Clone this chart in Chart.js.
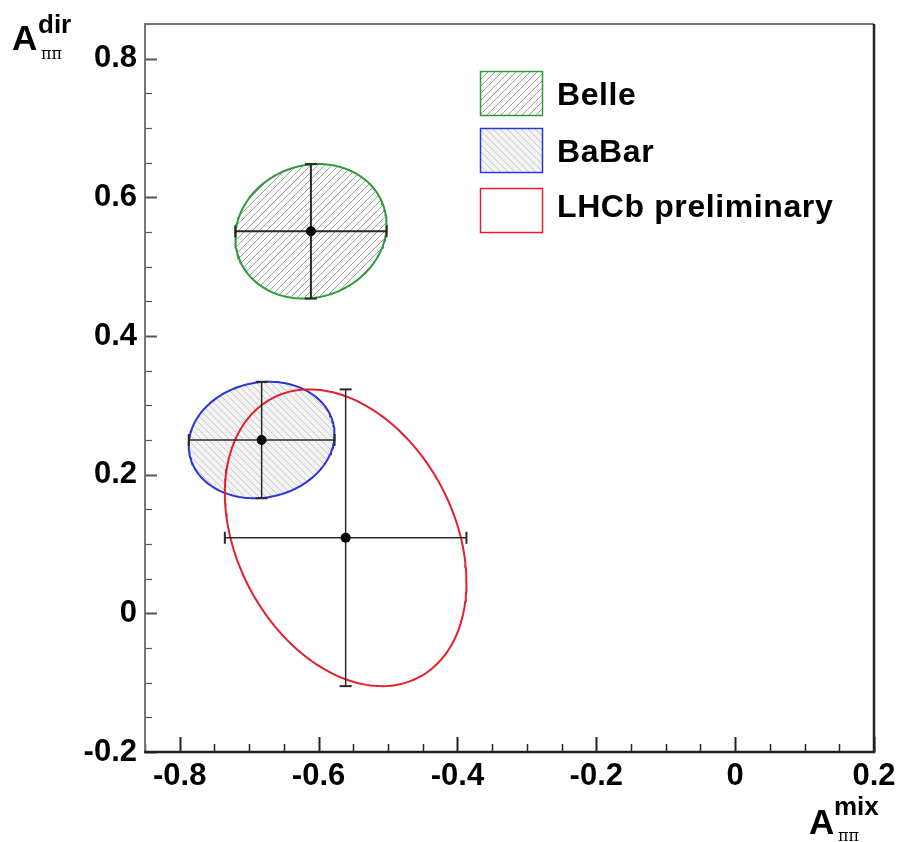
<!DOCTYPE html>
<html><head><meta charset="utf-8">
<script src="https://cdn.jsdelivr.net/npm/chart.js@4.4.1/dist/chart.umd.min.js"></script>
<style>html,body{margin:0;padding:0;background:#fff;}canvas{display:block;}</style>
</head><body>
<canvas id="c" width="897" height="842"></canvas>
<script>
// ---- data ----
const experiments = ['Belle', 'BaBar', 'LHCb preliminary'];
const mixCentral = [-0.611, -0.682, -0.561];
const dirCentral = [0.551, 0.250, 0.109];
const mixError = [0.109, 0.105, 0.174];
const dirError = [0.097, 0.084, 0.214];
const correlation = [0.10, 0.10, -0.30];
const xTickValues = [-0.8, -0.6, -0.4, -0.2, 0, 0.2];
const xTickLabels = ['-0.8', '-0.6', '-0.4', '-0.2', '0', '0.2'];
const yTickValues = [-0.2, 0, 0.2, 0.4, 0.6, 0.8];
const yTickLabels = ['-0.2', '0', '0.2', '0.4', '0.6', '0.8'];

// ---- styles ----
const lineColors = ['#2f9a3a', '#2b35d6', '#e3202b'];
const barColor = '#2a2a2a';
const FONT = '"Liberation Sans", Arial, Helvetica, sans-serif';

const canvas = document.getElementById('c');
const ctx0 = canvas.getContext('2d');
function hatch(dir, color, bg) {
  const s = 7;
  const t = document.createElement('canvas');
  t.width = s; t.height = s;
  const g = t.getContext('2d');
  g.fillStyle = bg; g.fillRect(0, 0, s, s);
  g.strokeStyle = color; g.lineWidth = 1;
  g.beginPath();
  if (dir > 0) {
    g.moveTo(0, s); g.lineTo(s, 0);
    g.moveTo(-1, 1); g.lineTo(1, -1);
    g.moveTo(s - 1, s + 1); g.lineTo(s + 1, s - 1);
  } else {
    g.moveTo(0, 0); g.lineTo(s, s);
    g.moveTo(s - 1, -1); g.lineTo(s + 1, 1);
    g.moveTo(-1, s - 1); g.lineTo(1, s + 1);
  }
  g.stroke();
  return ctx0.createPattern(t, 'repeat');
}
const fills = [hatch(1, '#a0a0a0', '#fbfbfb'), hatch(-1, '#c8c8c8', '#f3f3f3'), null];

// 1-sigma contour of a correlated 2D gaussian (bounding box = error bars)
function contour(i) {
  const pts = [];
  const d = Math.acos(correlation[i]);
  const n = 180;
  for (let k = 0; k <= n; k++) {
    const t = 2 * Math.PI * k / n;
    pts.push({ x: mixCentral[i] + mixError[i] * Math.cos(t),
               y: dirCentral[i] + dirError[i] * Math.cos(t - d) });
  }
  return pts;
}

const datasets = [];
// centre points (top-most)
datasets.push({
  label: 'centres',
  data: experiments.map((_, i) => ({ x: mixCentral[i], y: dirCentral[i] })),
  showLine: false, pointRadius: 5, pointBackgroundColor: '#000', pointBorderColor: '#000', pointBorderWidth: 0
});
// error bars
experiments.forEach((_, i) => {
  const w = i === 0 ? 2 : 1.5;
  datasets.push({
    label: experiments[i] + ' mix err',
    data: [{ x: mixCentral[i] - mixError[i], y: dirCentral[i] }, { x: mixCentral[i] + mixError[i], y: dirCentral[i] }],
    borderColor: barColor, borderWidth: w, pointStyle: 'line', pointRadius: 6, pointRotation: 90,
    pointBorderColor: barColor, pointBackgroundColor: barColor, pointBorderWidth: 2, fill: false
  });
  datasets.push({
    label: experiments[i] + ' dir err',
    data: [{ x: mixCentral[i], y: dirCentral[i] - dirError[i] }, { x: mixCentral[i], y: dirCentral[i] + dirError[i] }],
    borderColor: barColor, borderWidth: w, pointStyle: 'line', pointRadius: 6, pointRotation: 0,
    pointBorderColor: barColor, pointBackgroundColor: barColor, pointBorderWidth: 2, fill: false
  });
});
// ellipses: LHCb over BaBar over Belle
[2, 1, 0].forEach(i => {
  datasets.push({
    label: experiments[i],
    data: contour(i),
    borderColor: lineColors[i], borderWidth: 2, pointRadius: 0, tension: 0,
    fill: fills[i] ? 'shape' : false,
    backgroundColor: fills[i] || 'rgba(0,0,0,0)'
  });
});

const framePlugin = {
  id: 'frame',
  afterDraw(chart) {
    const { ctx, chartArea: a, scales } = chart;
    const xs = scales.x, ys = scales.y;
    ctx.save();
    // ticks (inward)
    ctx.strokeStyle = '#222';
    for (let k = -17; k <= 4; k++) {
      const v = k * 0.05;
      const major = xTickValues.some(t => Math.abs(t - v) < 1e-6);
      const px = Math.round(xs.getPixelForValue(v)) + 0.5;
      ctx.lineWidth = major ? 2 : 1.5;
      ctx.beginPath(); ctx.moveTo(px, a.bottom); ctx.lineTo(px, a.bottom - (major ? 15 : 8)); ctx.stroke();
    }
    ctx.strokeStyle = '#555';
    for (let k = -4; k <= 17; k++) {
      const v = k * 0.05;
      const major = yTickValues.some(t => Math.abs(t - v) < 1e-6);
      const py = Math.round(ys.getPixelForValue(v)) + 0.5;
      ctx.lineWidth = major ? 2 : 1.2;
      ctx.beginPath(); ctx.moveTo(a.left, py); ctx.lineTo(a.left + (major ? 12 : 7), py); ctx.stroke();
    }
    // frame
    ctx.lineWidth = 2;
    ctx.strokeStyle = '#777';
    ctx.beginPath(); ctx.moveTo(a.left, a.bottom); ctx.lineTo(a.left, a.top); ctx.lineTo(a.right, a.top); ctx.stroke();
    ctx.strokeStyle = '#222';
    ctx.lineWidth = 2.5;
    ctx.beginPath(); ctx.moveTo(a.left - 1, a.bottom); ctx.lineTo(a.right, a.bottom); ctx.lineTo(a.right, a.top); ctx.stroke();

    // legend
    const boxY = [71, 128, 188];
    const textBase = [105, 161.5, 217];
    experiments.forEach((name, i) => {
      ctx.fillStyle = fills[i] || '#fff';
      ctx.fillRect(480, boxY[i], 62, 44);
      ctx.strokeStyle = lineColors[i]; ctx.lineWidth = 1.5;
      ctx.strokeRect(480.5, boxY[i] + 0.5, 62, 44);
      ctx.fillStyle = '#000';
      ctx.font = 'bold 32px ' + FONT;
      ctx.letterSpacing = '0.6px';
      ctx.textAlign = 'left'; ctx.textBaseline = 'alphabetic';
      ctx.fillText(name, 557, textBase[i]);
    });
    ctx.letterSpacing = '0px';

    // axis titles
    ctx.fillStyle = '#000';
    ctx.font = 'bold 35px ' + FONT;
    ctx.fillText('A', 12, 50);
    ctx.font = 'bold 26px ' + FONT;
    ctx.fillText('dir', 38, 33);
    ctx.font = '16px "DejaVu Serif", serif';
    ctx.fillText('ππ', 41, 59);

    ctx.font = 'bold 35px ' + FONT;
    ctx.fillText('A', 809, 834);
    ctx.font = 'bold 26px ' + FONT;
    ctx.fillText('mix', 834, 815);
    ctx.font = '16px "DejaVu Serif", serif';
    ctx.fillText('ππ', 838, 841);
    ctx.restore();
  }
};

new Chart(canvas, {
  type: 'line',
  data: { datasets },
  options: {
    responsive: false,
    animation: false,
    events: [],
    layout: { padding: { top: 24, right: 23, left: 0, bottom: 0 } },
    plugins: { legend: { display: false }, tooltip: { enabled: false } },
    scales: {
      x: {
        type: 'linear', min: -0.85, max: 0.2,
        grid: { display: false, drawTicks: false }, border: { display: false },
        afterBuildTicks: s => { s.ticks = xTickValues.map(v => ({ value: v })); },
        afterFit: s => { s.height = 90; s.paddingLeft = 0; s.paddingRight = 0; },
        ticks: {
          padding: 6, maxRotation: 0, autoSkip: false, color: '#000',
          font: { family: FONT, size: 31, weight: 'bold' },
          callback: v => xTickLabels[xTickValues.findIndex(t => Math.abs(t - v) < 1e-6)]
        }
      },
      y: {
        type: 'linear', min: -0.2, max: 0.85,
        grid: { display: false, drawTicks: false }, border: { display: false },
        afterBuildTicks: s => { s.ticks = yTickValues.map(v => ({ value: v })); },
        afterFit: s => { s.width = 145; s.paddingTop = 0; s.paddingBottom = 0; },
        ticks: {
          padding: 8, autoSkip: false, color: '#000',
          font: { family: FONT, size: 31, weight: 'bold' },
          callback: v => yTickLabels[yTickValues.findIndex(t => Math.abs(t - v) < 1e-6)]
        }
      }
    }
  },
  plugins: [framePlugin]
});
</script>
</body></html>
